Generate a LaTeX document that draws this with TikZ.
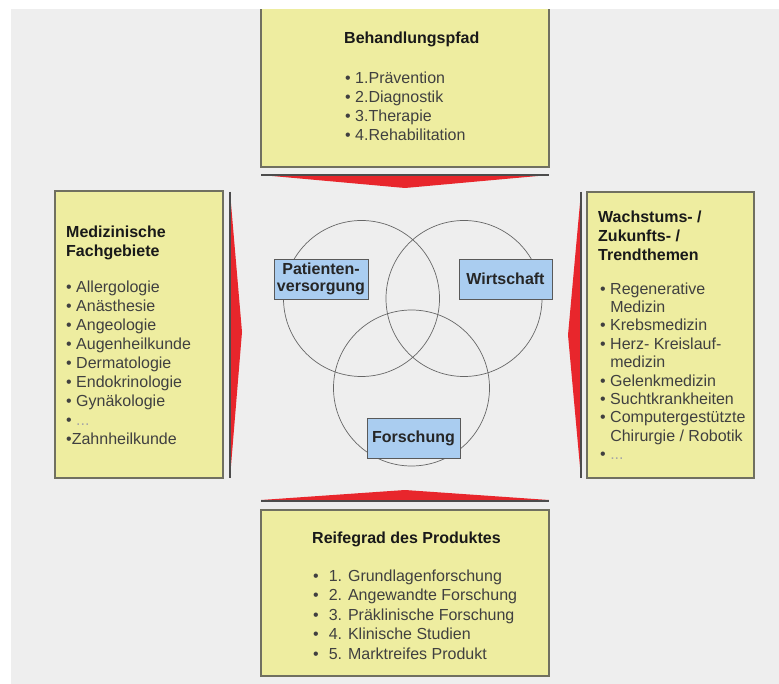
\documentclass[tikz,border=0pt]{standalone}
\usepackage{fontspec}
\setmainfont{Liberation Sans}
\definecolor{grund}{RGB}{238,238,238}
\definecolor{gelb}{RGB}{238,237,160}
\definecolor{rand}{RGB}{112,112,96}
\definecolor{blau}{RGB}{170,205,240}
\definecolor{rot}{RGB}{232,38,44}
\newcommand{\pkt}{\textbullet\ }
\newcommand{\leer}{\phantom{\textbullet\ }}

\begin{document}
\begin{tikzpicture}[x = 1pt, y = -1pt,
		kasten/.style = {draw = rand, fill = gelb, line width = 1.2pt, inner sep = 0pt},
		etikett/.style = {draw = black!65, fill = blau, line width = .8pt, inner sep = 0pt,
			font = \fontsize{16}{17}\selectfont\bfseries, text = black!85, align = center},
		kreis/.style = {circle, draw = black!60, line width = .7pt, minimum size = 156pt, inner sep = 0pt},
		titel/.style = {inner sep = 0pt, align = left, text = black!90,
			font = \fontsize{16}{19}\selectfont\bfseries},
		liste/.style = {inner sep = 0pt, align = left, text = black!75,
			font = \fontsize{16}{19}\selectfont},
		pfeil/.style = {fill = rot},
		kante/.style = {draw = black!70, line width = 1.6pt}]
		\useasboundingbox (0,0) rectangle (779,684);
		\fill [grund] (11,9) rectangle (779,684);
		
		% Behandlungspfad (oben)
		\node (pfad) at (405,83) [kasten, minimum width = 288pt, minimum height = 168pt] {};
		\fill [white] (0,0) rectangle (779,9);
		\node (pfadT) at (344,44) [titel, anchor = base west] {Behandlungspfad};
		\node (pfadL) at (345,71.5) [liste, anchor = north west]
			{\pkt 1.Prävention\\ \pkt 2.Diagnostik\\ \pkt 3.Therapie\\ \pkt 4.Rehabilitation};
		\fill [pfeil] (261,175) -- (549,175) -- (405,188) -- cycle;
		\draw [kante] (261,175) -- (549,175);
		
		% Medizinische Fachgebiete (links)
		\node (fach) at (139,334.5) [kasten, minimum width = 168pt, minimum height = 287pt] {};
		\node (fachT) at (66,225.4) [titel, anchor = north west] {Medizinische\\Fachgebiete};
		\node (fachL) at (66,280.3) [liste, anchor = north west]
			{\pkt Allergologie\\ \pkt Anästhesie\\ \pkt Angeologie\\ \pkt Augenheilkunde\\
			 \pkt Dermatologie\\ \pkt Endokrinologie\\ \pkt Gynäkologie\\
			 \pkt \textcolor{black!35}{...}\\ \textbullet Zahnheilkunde};
		\fill [pfeil] (230,192) -- (242,332) -- (230,478) -- cycle;
		\draw [kante] (230,192) -- (230,478);
		
		% Wachstums- / Zukunftsthemen (rechts)
		\node (trend) at (670.5,335) [kasten, minimum width = 167pt, minimum height = 286pt] {};
		\node (trendT) at (598,210.5) [titel, anchor = north west] {Wachstums- /\\Zukunfts- /\\Trendthemen};
		\node (trendL) at (600,282.3) [liste, anchor = north west, font = \fontsize{16}{18.4}\selectfont]
			{\pkt Regenerative\\ \leer Medizin\\ \pkt Krebsmedizin\\ \pkt Herz- Kreislauf-\\ \leer medizin\\
			 \pkt Gelenkmedizin\\ \pkt Suchtkrankheiten\\ \pkt Computergestützte\\ \leer Chirurgie / Robotik\\
			 \pkt \textcolor{black!35}{...}};
		\fill [pfeil] (581,192) -- (568,335) -- (581,478) -- cycle;
		\draw [kante] (581,192) -- (581,478);
		
		% Reifegrad des Produktes (unten)
		\node (reife) at (405,593) [kasten, minimum width = 288pt, minimum height = 166pt] {};
		\node (reifeT) at (312,543) [titel, anchor = base west] {Reifegrad des Produktes};
		\node (reifeL) at (313,569.5) [liste, anchor = north west, font = \fontsize{16}{19.5}\selectfont]
			{\textbullet\hspace{10pt}1. Grundlagenforschung\\ \textbullet\hspace{10pt}2. Angewandte Forschung\\
			 \textbullet\hspace{10pt}3. Präklinische Forschung\\ \textbullet\hspace{10pt}4. Klinische Studien\\
			 \textbullet\hspace{10pt}5. Marktreifes Produkt};
		\fill [pfeil] (261,500) -- (549,500) -- (405,490) -- cycle;
		\draw [kante] (261,501) -- (549,501);
		
		% Venn-Diagramm
		\node (kreisP) at (361.5,298.5) [kreis] {};
		\node (kreisW) at (464,298.5) [kreis] {};
		\node (kreisF) at (411.5,388) [kreis] {};
		\node (patient) at (321,279) [etikett, minimum width = 94pt, minimum height = 40pt] {Patienten-\\versorgung};
		\node (wirtschaft) at (505.5,279) [etikett, minimum width = 93pt, minimum height = 40pt] {Wirtschaft};
		\node (forschung) at (413.5,438) [etikett, minimum width = 93pt, minimum height = 40pt] {Forschung};
		\end{tikzpicture}
\end{document}
